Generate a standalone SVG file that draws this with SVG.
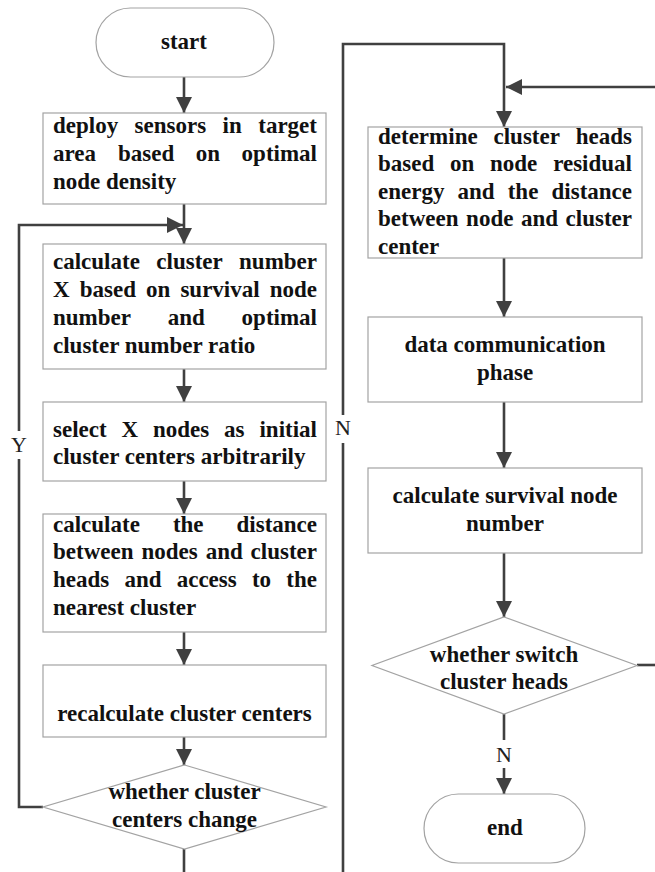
<svg xmlns="http://www.w3.org/2000/svg" width="655" height="872" viewBox="0 0 655 872">
<style>
.box{fill:#fff;stroke:#a3a3a3;stroke-width:1.2}
.t{font-family:"Liberation Serif","Times New Roman",serif;font-weight:bold;font-size:23px;fill:#111}
.c{text-anchor:middle}
.e{text-anchor:end}
.lbl{font-family:"Liberation Serif","Times New Roman",serif;font-size:22px;fill:#222;text-anchor:middle}
.ln{fill:none;stroke:#404040;stroke-width:2.6}
</style>
<defs>
<marker id="ah" markerUnits="userSpaceOnUse" viewBox="0 0 16 16" refX="16" refY="8" markerWidth="16" markerHeight="16" orient="auto">
<path d="M0,0 L16,8 L0,16 z" fill="#404040"/>
</marker>
</defs>
<rect width="655" height="872" fill="#fff"/>
<g id="connectors">
<path class="ln" d="M184,77 V113" marker-end="url(#ah)"/>
<path class="ln" d="M184,204 V244" marker-end="url(#ah)"/>
<path class="ln" d="M43,807 H19 V459"/>
<path class="ln" d="M19,431 V225 H183" marker-end="url(#ah)"/>
<path class="ln" d="M184,369 V402" marker-end="url(#ah)"/>
<path class="ln" d="M184,481 V514" marker-end="url(#ah)"/>
<path class="ln" d="M184,632 V665" marker-end="url(#ah)"/>
<path class="ln" d="M184,737 V765" marker-end="url(#ah)"/>
<path class="ln" d="M184,849 V872"/>
<path class="ln" d="M343,872 V443"/>
<path class="ln" d="M343,415 V44 H504 V127" marker-end="url(#ah)"/>
<path class="ln" d="M655,87 H506" marker-end="url(#ah)"/>
<path class="ln" d="M504,258 V317" marker-end="url(#ah)"/>
<path class="ln" d="M504,402 V468" marker-end="url(#ah)"/>
<path class="ln" d="M504,553 V617" marker-end="url(#ah)"/>
<path class="ln" d="M637,665 H655"/>
<path class="ln" d="M504,714 V740"/>
<path class="ln" d="M504,768 V794" marker-end="url(#ah)"/>
<text class="lbl" x="19" y="452">Y</text>
<text class="lbl" x="343" y="435">N</text>
<text class="lbl" x="504" y="762">N</text>
</g>
<g id="start">
<rect class="box" x="96" y="8" width="178" height="69" rx="34.5"/>
<text class="t c" x="184" y="49">start</text>
</g>
<g id="deploy">
<rect class="box" x="43" y="113" width="283" height="91"/>
<text class="t" y="133"><tspan x="53">deploy</tspan><tspan x="134.6">sensors</tspan><tspan x="222.6">in</tspan><tspan x="317" text-anchor="end">target</tspan></text>
<text class="t" y="161"><tspan x="53">area</tspan><tspan x="118">based</tspan><tspan x="195.8">on</tspan><tspan x="317" text-anchor="end">optimal</tspan></text>
<text class="t" x="53" y="189">node density</text>
</g>
<g id="calcnum">
<rect class="box" x="43" y="244" width="283" height="125"/>
<text class="t" y="269"><tspan x="53">calculate</tspan><tspan x="156.3">cluster</tspan><tspan x="317" text-anchor="end">number</tspan></text>
<text class="t" y="297"><tspan x="53">X</tspan><tspan x="79.7">based</tspan><tspan x="146">on</tspan><tspan x="180.4">survival</tspan><tspan x="317" text-anchor="end">node</tspan></text>
<text class="t" y="325"><tspan x="53">number</tspan><tspan x="167.7">and</tspan><tspan x="317" text-anchor="end">optimal</tspan></text>
<text class="t" x="53" y="353">cluster number ratio</text>
</g>
<g id="select">
<rect class="box" x="43" y="402" width="283" height="79"/>
<text class="t" y="437"><tspan x="53">select</tspan><tspan x="121.5">X</tspan><tspan x="153">nodes</tspan><tspan x="224.1">as</tspan><tspan x="317" text-anchor="end">initial</tspan></text>
<text class="t" x="53" y="464">cluster centers arbitrarily</text>
</g>
<g id="distance">
<rect class="box" x="43" y="514" width="283" height="118"/>
<text class="t" y="532"><tspan x="53">calculate</tspan><tspan x="172.9">the</tspan><tspan x="317" text-anchor="end">distance</tspan></text>
<text class="t" y="559"><tspan x="53">between</tspan><tspan x="141.5">nodes</tspan><tspan x="205.7">and</tspan><tspan x="317" text-anchor="end">cluster</tspan></text>
<text class="t" y="587"><tspan x="53">heads</tspan><tspan x="124.4">and</tspan><tspan x="176.7">access</tspan><tspan x="251.9">to</tspan><tspan x="317" text-anchor="end">the</tspan></text>
<text class="t" x="53" y="615">nearest cluster</text>
</g>
<g id="recalc">
<rect class="box" x="43" y="665" width="283" height="72"/>
<text class="t c" x="184.5" y="721">recalculate cluster centers</text>
</g>
<g id="change">
<polygon class="box" points="184.5,765 326,807 184.5,849 43,807"/>
<text class="t c" x="184.5" y="799">whether cluster</text>
<text class="t c" x="184.5" y="827">centers change</text>
</g>
<g id="determine">
<rect class="box" x="368" y="127" width="274" height="131"/>
<text class="t" y="143.5"><tspan x="378">determine</tspan><tspan x="493.5">cluster</tspan><tspan x="632" text-anchor="end">heads</tspan></text>
<text class="t" y="171"><tspan x="378">based</tspan><tspan x="449.9">on</tspan><tspan x="489.9">node</tspan><tspan x="632" text-anchor="end">residual</tspan></text>
<text class="t" y="198.5"><tspan x="378">energy</tspan><tspan x="457.5">and</tspan><tspan x="507.7">the</tspan><tspan x="632" text-anchor="end">distance</tspan></text>
<text class="t" y="226"><tspan x="378">between</tspan><tspan x="466.1">node</tspan><tspan x="521">and</tspan><tspan x="632" text-anchor="end">cluster</tspan></text>
<text class="t" x="378" y="253.5">center</text>
</g>
<g id="datacomm">
<rect class="box" x="368" y="317" width="274" height="85"/>
<text class="t c" x="505" y="352">data communication</text>
<text class="t c" x="505" y="380">phase</text>
</g>
<g id="survival">
<rect class="box" x="368" y="468" width="274" height="85"/>
<text class="t c" x="505" y="503">calculate survival node</text>
<text class="t c" x="505" y="531">number</text>
</g>
<g id="switch">
<polygon class="box" points="504,617 637,665.5 504,714 372,665.5"/>
<text class="t c" x="504" y="662">whether switch</text>
<text class="t c" x="504" y="689">cluster heads</text>
</g>
<g id="end">
<rect class="box" x="424" y="794" width="161" height="69" rx="34.5"/>
<text class="t c" x="505" y="835">end</text>
</g>
</svg>
